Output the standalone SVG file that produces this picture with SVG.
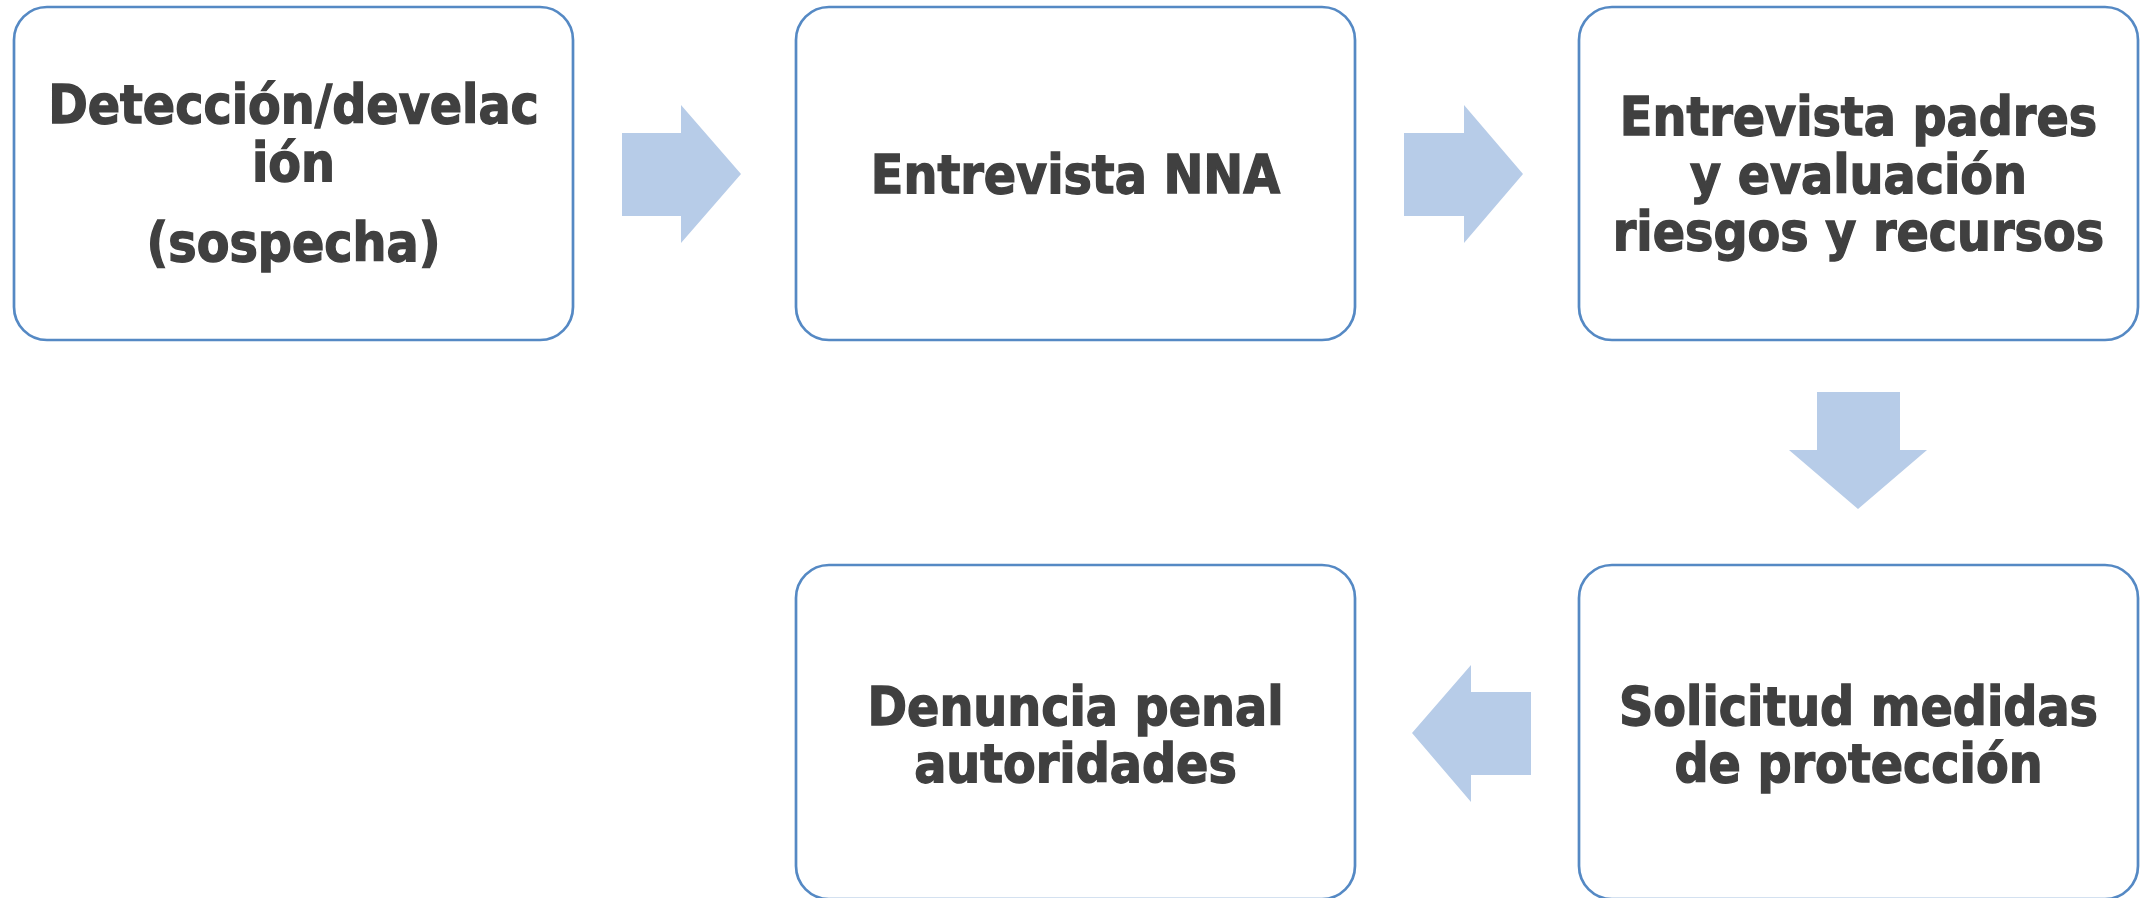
<svg xmlns="http://www.w3.org/2000/svg" width="2144" height="898" viewBox="0 0 2144 898">
<style>
.box{fill:#ffffff;stroke:#5589C4;stroke-width:2.7}
.t{font-family:"DejaVu Sans Condensed","DejaVu Sans",sans-serif;font-weight:bold;font-size:53px;fill:#404040;stroke:#404040;stroke-width:1.3;text-anchor:middle}
.arr{fill:#B7CCE8}
</style>
<rect width="2144" height="898" fill="#ffffff"/>
<g id="connectors">
<polygon class="arr" points="622,133 681,133 681,105 741,174 681,243 681,216 622,216"/>
<polygon class="arr" points="1404,133 1464,133 1464,105 1523,174 1464,243 1464,216 1404,216"/>
<polygon class="arr" points="1817,392 1900,392 1900,450 1927,450 1858,509 1789,450 1817,450"/>
<polygon class="arr" points="1531,692 1471,692 1471,665 1412,733 1471,802 1471,775 1531,775"/>
</g>
<g id="n1">
<rect class="box" x="14" y="7" width="559" height="333" rx="33"/>
<text class="t" x="293.5" y="123">Detección/develac</text>
<text class="t" x="293.5" y="181">ión</text>
<text class="t" x="293.5" y="261">(sospecha)</text>
</g>
<g id="n2">
<rect class="box" x="796" y="7" width="559" height="333" rx="33"/>
<text class="t" x="1075.5" y="193">Entrevista NNA</text>
</g>
<g id="n3">
<rect class="box" x="1579" y="7" width="559" height="333" rx="33"/>
<text class="t" x="1858.5" y="135">Entrevista padres</text>
<text class="t" x="1858.5" y="193">y evaluación</text>
<text class="t" x="1858.5" y="250">riesgos y recursos</text>
</g>
<g id="n4">
<rect class="box" x="1579" y="565" width="559" height="334" rx="33"/>
<text class="t" x="1858.5" y="725">Solicitud medidas</text>
<text class="t" x="1858.5" y="782">de protección</text>
</g>
<g id="n5">
<rect class="box" x="796" y="565" width="559" height="334" rx="33"/>
<text class="t" x="1075.5" y="725">Denuncia penal</text>
<text class="t" x="1075.5" y="782">autoridades</text>
</g>
</svg>
